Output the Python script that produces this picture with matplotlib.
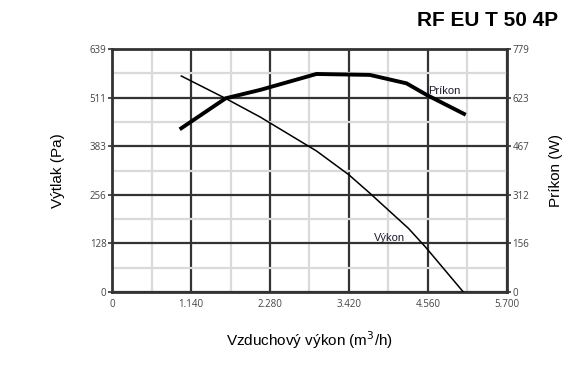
import numpy as np
import matplotlib
matplotlib.use("Agg")
import matplotlib.pyplot as plt

# Fan curve data
flow_vykon = [1000, 1640, 2140, 2950, 3420, 3720, 4280, 4530, 5070]
pressure_pa = [568, 509, 460, 371, 308, 260, 167, 117, 0]

flow_prikon = [1000, 1640, 2140, 2950, 3720, 4250, 4540, 5080]
power_w = [525, 621, 648, 699, 696, 669, 632, 571]

x_ticks = [0, 1140, 2280, 3420, 4560, 5700]
x_labels = ["0", "1.140", "2.280", "3.420", "4.560", "5.700"]
y_max_pa = 639
y_max_w = 779

plt.rcParams['font.family'] = ['Liberation Sans', 'DejaVu Sans']

fig = plt.figure(figsize=(5.75, 3.68), dpi=100)
ax = fig.add_axes([0.1948, 0.2065, 0.6869, 0.6603])

dark = "#333333"
light = "#dadada"
tick_font = {"family": ["Open Sans", "DejaVu Sans"], "size": 7, "color": "#444444"}

# grid: minor light lines, major dark lines
ax.set_xlim(0, 5700)
ax.set_ylim(0, y_max_pa)
ax.set_xticks(x_ticks)
ax.set_xticks(np.arange(570, 5700, 1140), minor=True)
y_ticks = np.linspace(0, y_max_pa, 6)
ax.set_yticks(y_ticks)
ax.set_yticks((y_ticks[:-1] + y_ticks[1:]) / 2, minor=True)
ax.grid(which="minor", color=light, lw=1.6, zorder=0)
ax.grid(which="major", color=dark, lw=1.6, zorder=1)

ax.set_xticklabels(x_labels, fontdict=tick_font)
ax.set_yticklabels([str(int(round(v))) for v in y_ticks], fontdict=tick_font)
ax.tick_params(which="major", direction="out", length=3, width=1.2, color=dark, pad=1)
ax.tick_params(which="minor", length=0)
ax.tick_params(axis="x", length=0, pad=5)
for s in ax.spines.values():
    s.set_color(dark)
    s.set_linewidth(2)

ax.plot(flow_vykon, pressure_pa, color="black", lw=1.1, zorder=3)
ax.text(3780, 133, "Výkon", fontsize=8, color="#1a1a2e", zorder=4)

ax2 = ax.twinx()
ax2.set_ylim(0, y_max_w)
w_ticks = np.linspace(0, y_max_w, 6)
ax2.set_yticks(w_ticks)
ax2.set_yticklabels([str(int(round(v))) for v in w_ticks], fontdict=tick_font)
ax2.tick_params(direction="out", length=3, width=1.2, color=dark, pad=1)
for s in ax2.spines.values():
    s.set_visible(False)
ax2.plot(flow_prikon, power_w, color="black", lw=2.8, zorder=3,
         solid_joinstyle="round")
ax2.text(4560, 636, "Príkon", fontsize=8, color="#1a1a2e")

ax.set_ylabel("Výtlak (Pa)", fontsize=11, labelpad=18)
ax2.set_ylabel("Príkon (W)", fontsize=11, labelpad=14)
ax.set_xlabel("Vzduchový výkon (m$^3$/h)", fontsize=11, labelpad=14)

fig.text(0.97, 0.945, "RF EU T 50 4P", fontsize=15, fontweight="bold",
         ha="right", va="center")

fig.savefig("out.png", dpi=100)
